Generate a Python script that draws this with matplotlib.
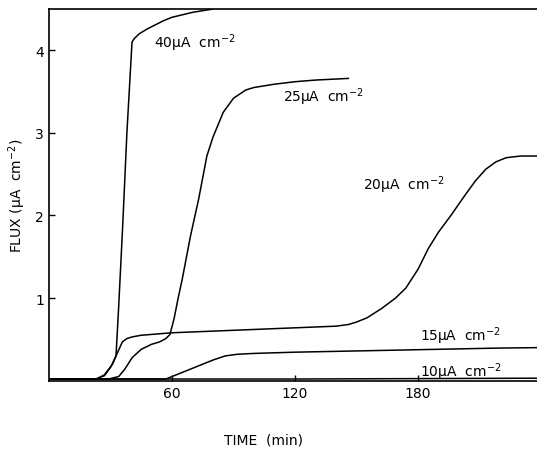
import numpy as np
import matplotlib
matplotlib.use('Agg')
import matplotlib.pyplot as plt

# values (time in min, flux in uA cm-2)
t_40 = [0, 23, 27, 30, 32.7, 34, 36, 38, 40.5, 41.5, 44, 48, 52, 56, 60, 65, 70, 75, 80]
f_40 = [0.02, 0.02, 0.06, 0.16, 0.3, 0.9, 1.9, 3.0, 4.1, 4.14, 4.2, 4.26, 4.31, 4.36, 4.4, 4.43, 4.46, 4.48, 4.5]

t_25 = [0, 29, 34, 37, 40.6, 45, 50, 54, 57, 59, 61, 63, 65, 69, 73, 77, 80, 85, 90, 96, 100, 110, 120, 130, 146]
f_25 = [0.02, 0.02, 0.05, 0.14, 0.28, 0.38, 0.44, 0.47, 0.51, 0.56, 0.75, 1.0, 1.23, 1.75, 2.2, 2.72, 2.95, 3.25, 3.42, 3.52, 3.55, 3.59, 3.62, 3.64, 3.66]

t_20 = [0, 23, 27, 31, 32.7, 35.8, 38, 40.6, 45, 60, 80, 100, 120, 140, 146, 150, 155, 162, 169, 174, 180, 185, 190, 196, 203, 208, 213, 218, 223, 230, 238]
f_20 = [0.02, 0.02, 0.07, 0.2, 0.3, 0.47, 0.51, 0.53, 0.55, 0.58, 0.6, 0.62, 0.64, 0.66, 0.68, 0.71, 0.76, 0.87, 1.0, 1.12, 1.35, 1.6, 1.8, 2.0, 2.25, 2.42, 2.56, 2.65, 2.7, 2.72, 2.72]

t_15 = [0, 57, 61, 65, 70, 75, 80, 86, 92, 100, 120, 140, 160, 180, 200, 220, 238]
f_15 = [0.02, 0.02, 0.06, 0.1, 0.15, 0.2, 0.25, 0.3, 0.32, 0.33, 0.345, 0.355, 0.365, 0.375, 0.385, 0.395, 0.4]

t_10 = [0, 60, 120, 180, 238]
f_10 = [0.02, 0.02, 0.02, 0.025, 0.03]

labels = ['40µA  cm$^{-2}$', '25µA  cm$^{-2}$', '20µA  cm$^{-2}$',
          '15µA  cm$^{-2}$', '10µA  cm$^{-2}$']
label_t = [51, 114, 153, 181, 181]
label_f = [4.1, 3.45, 2.38, 0.55, 0.12]

fig = plt.figure(figsize=(5.37, 4.56), dpi=100)
ax = fig.add_axes([0.0912, 0.163, 0.9088, 0.815])

for t, f in [(t_40, f_40), (t_25, f_25), (t_20, f_20), (t_15, f_15), (t_10, f_10)]:
    ax.plot(t, f, color='black', lw=1.1)

for s, x, y in zip(labels, label_t, label_f):
    ax.text(x, y, s, fontsize=10, va='center', ha='left')

ax.set_xlim(0, 238)
ax.set_ylim(0, 4.5)
ax.set_xticks([60, 120, 180])
ax.set_yticks([1, 2, 3, 4])
ax.tick_params(direction='in', length=4, labelsize=10, width=1)
ax.spines['right'].set_visible(False)
for sp in ['left', 'bottom', 'top']:
    ax.spines[sp].set_linewidth(1.2)

ax.set_ylabel('FLUX (µA  cm$^{-2}$)', fontsize=10)
ax.yaxis.set_label_coords(-0.043, 0.5)
fig.text(0.49, 0.035, 'TIME  (min)', fontsize=10, ha='center', va='center')

fig.savefig('out.png', dpi=100)
